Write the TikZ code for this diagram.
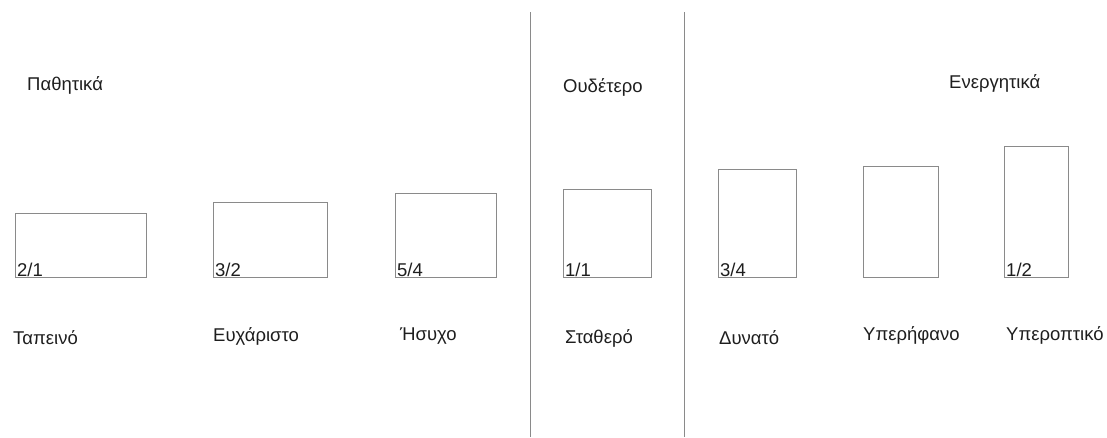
\documentclass[tikz,border=0pt]{standalone}
\usepackage{fontspec}
\setmainfont{Liberation Sans}
\usetikzlibrary{calc}
\definecolor{ink}{HTML}{1E1E1E}
\definecolor{rule}{HTML}{8A8A8A}
\tikzset{
  lbl/.style={inner sep=0pt, anchor=base west, text=ink, font=\fontsize{18.5}{22}\selectfont},
  bar/.style={draw=rule, line width=0.9pt, inner sep=0pt, anchor=south west},
  sep/.style={draw=rule, line width=0.9pt},
}
\begin{document}
\begin{tikzpicture}[x=1pt,y=-1pt]
\useasboundingbox (0,0) rectangle (1107,437);
% separators
\coordinate (s1t) at (530,12); \coordinate (s1b) at (530,437);
\coordinate (s2t) at (684,12); \coordinate (s2b) at (684,437);
\draw[sep] (s1t) -- (s1b);
\draw[sep] (s2t) -- (s2b);
% headings
\node[lbl] (h1) at (27,90) {Παθητικά};
\node[lbl] (h2) at (563,92) {Ουδέτερο};
\node[lbl] (h3) at (949,88) {Ενεργητικά};
% bars
\node[bar, minimum width=131, minimum height=64] (b1) at (15,278) {};
\node[bar, minimum width=114, minimum height=75] (b2) at (213,278) {};
\node[bar, minimum width=101, minimum height=84] (b3) at (395,278) {};
\node[bar, minimum width=88, minimum height=88] (b4) at (563,278) {};
\node[bar, minimum width=78, minimum height=108] (b5) at (718,278) {};
\node[bar, minimum width=75, minimum height=111] (b6) at (863,278) {};
\node[bar, minimum width=64, minimum height=131] (b7) at (1004,278) {};
% ratios
\node[lbl] (r1) at ($(b1.south west)+(2,-2)$) {2/1};
\node[lbl] (r2) at ($(b2.south west)+(2,-2)$) {3/2};
\node[lbl] (r3) at ($(b3.south west)+(2,-2)$) {5/4};
\node[lbl] (r4) at ($(b4.south west)+(2,-2)$) {1/1};
\node[lbl] (r5) at ($(b5.south west)+(2,-2)$) {3/4};
\node[lbl] (r7) at ($(b7.south west)+(2,-2)$) {1/2};
% names
\node[lbl] (n1) at (13,344) {Ταπεινό};
\node[lbl] (n2) at (213,341) {Ευχάριστο};
\node[lbl] (n3) at (400,340) {Ήσυχο};
\node[lbl] (n4) at (565,343) {Σταθερό};
\node[lbl] (n5) at (719,344) {Δυνατό};
\node[lbl] (n6) at (863,340) {Υπερήφανο};
\node[lbl] (n7) at (1006,340) {Υπεροπτικό};
\end{tikzpicture}
\end{document}
